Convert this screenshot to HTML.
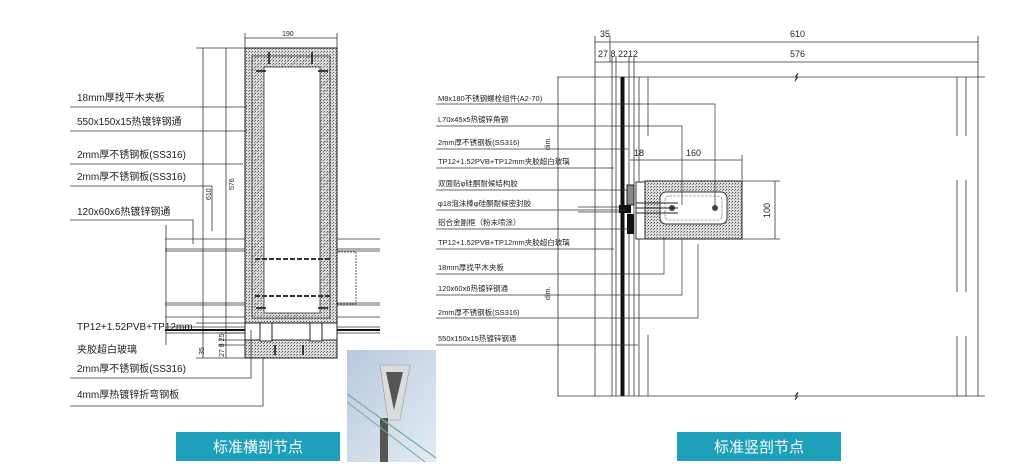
<!DOCTYPE html>
<html><head><meta charset="utf-8"><style>
html,body{margin:0;padding:0;background:#fff;}
svg{display:block}
text{font-family:"Liberation Sans","Noto Sans CJK SC",sans-serif;fill:#222}
</style></head><body>
<svg width="1032" height="476" viewBox="0 0 1032 476" xmlns="http://www.w3.org/2000/svg">
<defs>
<pattern id="dots" width="3" height="3" patternUnits="userSpaceOnUse"><rect width="3" height="3" fill="#ddd"/><rect width="1" height="1" fill="#555"/><rect x="2" y="1" width="1" height="1" fill="#888"/></pattern>
<pattern id="hatch" width="6" height="6" patternUnits="userSpaceOnUse" patternTransform="rotate(45)"><line x1="0" y1="0" x2="0" y2="6" stroke="#777" stroke-width="0.8"/></pattern>
<linearGradient id="ph" x1="0" y1="0" x2="1" y2="1"><stop offset="0" stop-color="#b8c8de"/><stop offset="1" stop-color="#e4ecf3"/></linearGradient>
</defs>

<!-- ============ LEFT DRAWING ============ -->
<g stroke="#333" stroke-width="0.8" fill="none">
<!-- top dim 190 -->
<line x1="245" y1="38" x2="337" y2="38"/>
<line x1="245" y1="33" x2="245" y2="48"/><line x1="337" y1="33" x2="337" y2="48"/>
<!-- vertical dims -->
<line x1="203" y1="48" x2="203" y2="358"/><line x1="226" y1="48" x2="226" y2="358"/>
<line x1="196" y1="48" x2="245" y2="48"/>
<line x1="196" y1="358" x2="245" y2="358"/>
<line x1="196" y1="323" x2="245" y2="323"/>
<line x1="218" y1="333" x2="245" y2="333"/><line x1="218" y1="340" x2="245" y2="340"/><line x1="218" y1="345" x2="245" y2="345"/>
<!-- horizontal frame lines left -->
<line x1="165" y1="239" x2="245" y2="239"/>
<line x1="165" y1="249" x2="245" y2="249"/><line x1="165" y1="251" x2="245" y2="251"/>
<line x1="165" y1="303" x2="245" y2="303"/><line x1="165" y1="305" x2="245" y2="305"/>
<line x1="165" y1="317" x2="245" y2="317"/>
<line x1="165" y1="327" x2="245" y2="327"/><line x1="165" y1="333" x2="245" y2="333"/>
<line x1="166" y1="225" x2="166" y2="345"/>
<!-- right -->
<line x1="337" y1="239" x2="380" y2="239"/>
<line x1="337" y1="249" x2="380" y2="249"/><line x1="337" y1="251" x2="380" y2="251"/>
<line x1="337" y1="303" x2="380" y2="303"/><line x1="337" y1="305" x2="380" y2="305"/>
<line x1="337" y1="317" x2="380" y2="317"/>
<line x1="337" y1="327" x2="380" y2="327"/><line x1="337" y1="333" x2="380" y2="333"/>
<rect x="335" y="252" width="21" height="52" stroke-dasharray="2,1"/>
</g>
<line x1="165" y1="330" x2="245" y2="330" stroke="#111" stroke-width="2"/>
<line x1="337" y1="330" x2="380" y2="330" stroke="#111" stroke-width="2"/>
<!-- box -->
<rect x="245" y="48" width="92" height="275" fill="url(#dots)" stroke="#222" stroke-width="1"/>
<rect x="252" y="56" width="78" height="262" fill="url(#hatch)" stroke="#333" stroke-width="0.8"/>
<rect x="264" y="67" width="56" height="246" fill="#fff" stroke="#333" stroke-width="0.8"/>
<line x1="255" y1="259" x2="330" y2="259" stroke="#333" stroke-width="2" stroke-dasharray="5,2"/>
<line x1="255" y1="296" x2="330" y2="296" stroke="#333" stroke-width="2" stroke-dasharray="5,2"/>
<!-- bottom part -->
<rect x="245" y="323" width="92" height="35" fill="#fff" stroke="#222"/>
<rect x="245" y="340" width="92" height="18" fill="url(#dots)" stroke="#222"/>
<rect x="260" y="323" width="12" height="18" fill="#fff" stroke="#222"/>
<rect x="310" y="323" width="12" height="18" fill="#fff" stroke="#222"/>
<g stroke="#111" stroke-width="1.5">
<line x1="269" y1="52" x2="269" y2="64"/><line x1="312" y1="52" x2="312" y2="64"/>
<line x1="256" y1="71" x2="266" y2="71"/><line x1="318" y1="71" x2="328" y2="71"/>
<line x1="256" y1="308" x2="266" y2="308"/><line x1="318" y1="308" x2="328" y2="308"/>
<line x1="275" y1="345" x2="275" y2="355"/><line x1="303" y1="345" x2="303" y2="355"/>
</g>
<!-- left labels -->
<g font-size="10">
<text x="77" y="101">18mm厚找平木夹板</text>
<text x="77" y="125">550x150x15热镀锌钢通</text>
<text x="77" y="158">2mm厚不锈钢板(SS316)</text>
<text x="77" y="180">2mm厚不锈钢板(SS316)</text>
<text x="77" y="215">120x60x6热镀锌钢通</text>
<text x="77" y="330">TP12+1.52PVB+TP12mm</text>
<text x="77" y="353">夹胶超白玻璃</text>
<text x="77" y="372">2mm厚不锈钢板(SS316)</text>
<text x="77" y="398">4mm厚热镀锌折弯钢板</text>
</g>
<g stroke="#333" stroke-width="0.8" fill="none">
<path d="M70 107H247"/><path d="M70 131H247"/><path d="M70 164H243"/>
<path d="M70 186H212V231"/><path d="M70 220H193V244"/>
<path d="M70 378H251V330"/><path d="M70 406H263V357"/>
</g>
<g font-size="7"><text x="282" y="36">190</text>
<text transform="translate(211,200) rotate(-90)">610</text>
<text transform="translate(234,190) rotate(-90)">576</text>
<text transform="translate(204,355) rotate(-90)">35</text>
<text transform="translate(224,357) rotate(-90)">27 8 25</text></g>

<!-- photo -->
<rect x="347" y="350" width="89" height="112" fill="url(#ph)"/>
<polygon points="380,365 410,365 400,420 388,420" fill="#d8dcdf" stroke="#999" stroke-width="0.6"/>
<polygon points="386,372 403,372 394,410" fill="#555"/>
<rect x="380" y="418" width="8" height="44" fill="#555"/>
<line x1="347" y1="394" x2="436" y2="458" stroke="#6fae9e" stroke-width="1.2"/>
<line x1="347" y1="402" x2="425" y2="462" stroke="#6fae9e" stroke-width="1"/>

<!-- banners -->
<rect x="176" y="432" width="164" height="29" fill="#1ea0bb"/>
<text x="258" y="452" font-size="15" text-anchor="middle" style="fill:#fff">标准横剖节点</text>
<rect x="677" y="432" width="164" height="29" fill="#1ea0bb"/>
<text x="759" y="452" font-size="15" text-anchor="middle" style="fill:#fff">标准竖剖节点</text>

<!-- ============ RIGHT DRAWING ============ -->
<g stroke="#333" stroke-width="0.8" fill="none">
<line x1="595" y1="42" x2="978" y2="42"/><line x1="595" y1="62" x2="978" y2="62"/>
<line x1="610" y1="36" x2="610" y2="62"/>
<line x1="978" y1="36" x2="978" y2="396"/>
<line x1="557" y1="77" x2="985" y2="77"/><line x1="557" y1="396" x2="985" y2="396"/>
<line x1="558" y1="77" x2="558" y2="396"/>
<line x1="595" y1="36" x2="595" y2="396"/>
<line x1="612" y1="56" x2="612" y2="396"/><line x1="616" y1="56" x2="616" y2="396"/>
<line x1="629" y1="56" x2="629" y2="396"/><line x1="634" y1="56" x2="634" y2="396"/>
<line x1="639" y1="77" x2="639" y2="396"/>
<line x1="648" y1="77" x2="648" y2="136"/><line x1="648" y1="335" x2="648" y2="396"/>
<line x1="957" y1="77" x2="957" y2="136"/><line x1="957" y1="180" x2="957" y2="292"/><line x1="957" y1="336" x2="957" y2="396"/>
<line x1="966" y1="77" x2="966" y2="136"/><line x1="966" y1="180" x2="966" y2="292"/><line x1="966" y1="336" x2="966" y2="396"/>
<!-- dims near component -->
<line x1="630" y1="160" x2="742" y2="160"/><line x1="742" y1="155" x2="742" y2="180"/>
<line x1="742" y1="181" x2="780" y2="181"/><line x1="742" y1="239" x2="780" y2="239"/>
<line x1="775" y1="181" x2="775" y2="239"/>
<line x1="578" y1="207" x2="625" y2="207"/><line x1="578" y1="212" x2="625" y2="212"/>
<path d="M795 77l3 -4l-3 8l3 -4" /><path d="M795 396l3 -4l-3 8l3 -4"/>
</g>
<line x1="622" y1="77" x2="622" y2="396" stroke="#111" stroke-width="3"/>
<line x1="624" y1="77" x2="624" y2="396" stroke="#111" stroke-width="1"/>
<!-- component -->
<rect x="645" y="181" width="97" height="58" fill="url(#dots)" stroke="#222"/>
<rect x="660" y="192" width="67" height="32" rx="6" fill="#fff" stroke="#333"/>
<rect x="665" y="196" width="57" height="24" rx="4" fill="none" stroke="#666" stroke-width="0.6" stroke-dasharray="3,1"/>
<rect x="636" y="182" width="9" height="57" fill="#fff" stroke="#333"/>
<rect x="627" y="185" width="7" height="20" fill="#888" stroke="#222"/>
<rect x="627" y="214" width="7" height="20" fill="#111"/>
<rect x="619" y="205" width="12" height="8" fill="#111"/>
<circle cx="672" cy="208" r="3" fill="#444"/><circle cx="715" cy="208" r="3" fill="#444"/>
<g stroke="#222" stroke-width="1"><line x1="636" y1="203" x2="678" y2="203"/><line x1="636" y1="208" x2="678" y2="208"/><line x1="636" y1="213" x2="678" y2="213"/></g>
<!-- right labels -->
<g font-size="7.5">
<text x="438" y="101">M8x180不锈钢螺栓组件(A2-70)</text>
<text x="438" y="122">L70x45x5热镀锌角钢</text>
<text x="438" y="145">2mm厚不锈钢板(SS316)</text>
<text x="438" y="164">TP12+1.52PVB+TP12mm夹胶超白玻璃</text>
<text x="438" y="186">双面贴φ硅酮耐候结构胶</text>
<text x="438" y="206">φ18泡沫棒φ硅酮耐候密封胶</text>
<text x="438" y="225">铝合金副框（粉末喷涂）</text>
<text x="438" y="245">TP12+1.52PVB+TP12mm夹胶超白玻璃</text>
<text x="438" y="270">18mm厚找平木夹板</text>
<text x="438" y="291">120x60x6热镀锌钢通</text>
<text x="438" y="315">2mm厚不锈钢板(SS316)</text>
<text x="438" y="341">550x150x15热镀锌钢通</text>
</g>
<g stroke="#333" stroke-width="0.7" fill="none">
<path d="M436 104H715V207"/><path d="M436 126H682V205"/><path d="M436 149H628"/>
<path d="M436 168H614"/><path d="M436 190H628"/><path d="M436 210H625"/>
<path d="M436 229H630"/><path d="M436 249H614"/><path d="M436 274H664V237"/>
<path d="M436 295H682V239"/><path d="M436 318H698V244"/><path d="M436 345H638"/>
</g>
<g font-size="9">
<text x="600" y="37">35</text><text x="790" y="37">610</text>
<text x="598" y="57">27 8 2212</text><text x="790" y="57">576</text>
<text x="686" y="156">160</text><text x="634" y="156">18</text>
<text transform="translate(770,218) rotate(-90)">100</text>
<text transform="translate(550,150) rotate(-90)" font-size="7">dim.</text>
<text transform="translate(550,300) rotate(-90)" font-size="7">dim.</text>
</g>
</svg>
</body></html>
